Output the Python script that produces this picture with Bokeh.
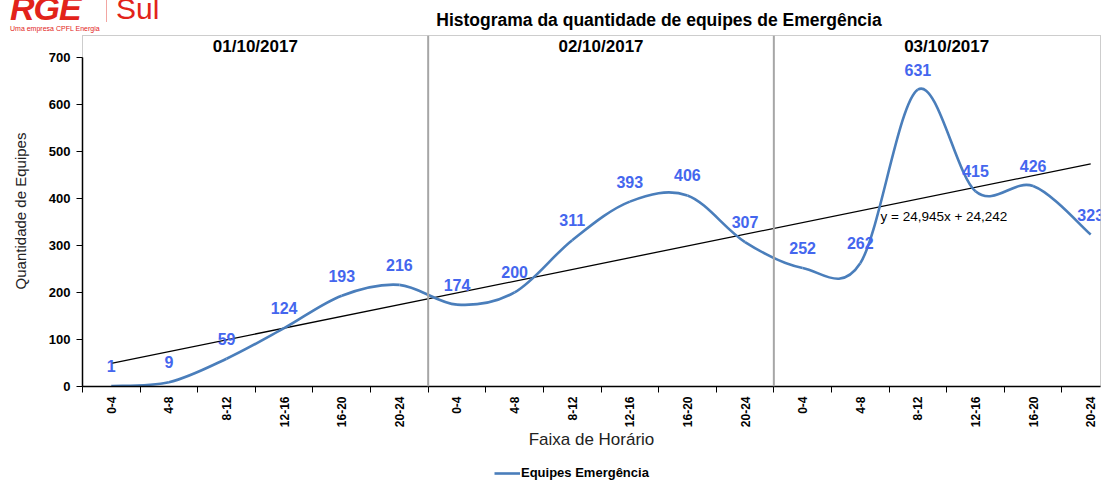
import math
import numpy as np
from bokeh.plotting import figure
from bokeh.layouts import column
from bokeh.models import (FixedTicker, Range1d, Label, Span, Legend, LegendItem,
                          ColumnDataSource, Div)
from bokeh.core.properties import value
from bokeh.embed import file_html
from bokeh.resources import INLINE

# ---------------- data ----------------
days = ["01/10/2017", "02/10/2017", "03/10/2017"]
slots = ["0-4", "4-8", "8-12", "12-16", "16-20", "20-24"]
equipes = [1, 9, 59, 124, 193, 216,
           174, 200, 311, 393, 406, 307,
           252, 262, 631, 415, 426, 323]
y_ticks = [0, 100, 200, 300, 400, 500, 600, 700]
series_name = "Equipes Emergência"
title_text = "Histograma da quantidade de equipes de Emergência"

FONT = "Liberation Sans"
LINE_COLOR = "#4a7ebb"
LABEL_COLOR = "#4466ee"
RED = "#e2231a"

n = len(equipes)
xs = np.arange(n, dtype=float)
ys = np.array(equipes, dtype=float)

# smoothed line (Catmull-Rom style bezier, like spreadsheet "smoothed line")
xp = np.concatenate([[xs[0]], xs, [xs[-1]]])
yp = np.concatenate([[ys[0]], ys, [ys[-1]]])
seg = ColumnDataSource(dict(
    x0=xs[:-1], y0=ys[:-1], x1=xs[1:], y1=ys[1:],
    cx0=xs[:-1] + (xp[2:-1] - xp[:-3]) / 6.0,
    cy0=ys[:-1] + (yp[2:-1] - yp[:-3]) / 6.0,
    cx1=xs[1:] - (xp[3:] - xp[1:-2]) / 6.0,
    cy1=ys[1:] - (yp[3:] - yp[1:-2]) / 6.0,
))

# linear trend (x = 1..n)
m, b = np.polyfit(xs + 1, ys, 1)

# ---------------- header (logo + title) ----------------
HEADER_H = 34
header = Div(width=1105, height=HEADER_H, margin=(0, 0, 0, 0), text=f"""
<div style="position:relative;width:1105px;height:{HEADER_H}px;overflow:hidden;background:white;font-family:'Liberation Sans';">
  <span style="position:absolute;left:10px;top:-16px;font-weight:bold;font-style:italic;font-size:34px;color:{RED};letter-spacing:-1px;white-space:nowrap;">RGE</span>
  <span style="position:absolute;left:106px;top:-4px;width:1px;height:26px;background:#f2a6a2;"></span>
  <span style="position:absolute;left:116px;top:-12px;font-size:30px;color:{RED};white-space:nowrap;">Sul</span>
  <span style="position:absolute;left:10px;top:24px;font-size:7px;color:{RED};white-space:nowrap;">Uma empresa CPFL Energia</span>
  <span style="position:absolute;left:659px;top:8px;transform:translateX(-50%);font-weight:bold;font-size:17.5px;color:black;white-space:nowrap;">{title_text}</span>
</div>""")

# ---------------- main figure ----------------
X_END = 17.17
Y_END = 746
MAIN_H = 418
LEG_H = 480 - HEADER_H - MAIN_H
p = figure(width=1105, height=MAIN_H,
           x_range=Range1d(-0.5, X_END), y_range=Range1d(0, Y_END),
           output_backend="svg", toolbar_location=None,
           min_border_left=82, min_border_right=5, min_border_top=1,
           min_border_bottom=62)
p.grid.visible = False
p.background_fill_color = "white"
p.border_fill_color = "white"
p.outline_line_color = "#9a9a9a"
p.outline_line_dash = "1 1"
p.outline_line_width = 1

# pixel helpers for decorations (frame: left 82px, top 35px, bottom 390px on page)
PX_PER_X = 1018 / (X_END + 0.5)
PX_PER_Y = 355 / Y_END
def dx(px):
    return -0.5 + (px - 82) / PX_PER_X
def dy(py):
    return (390 - py) / PX_PER_Y

# day separators
for k in range(1, len(days)):
    p.add_layout(Span(location=k * len(slots) - 0.5, dimension="height",
                      line_color="#a6a6a6", line_width=2))

# trend line
tx = np.array([xs[0], xs[-1]])
p.line(tx, m * (tx + 1) + b, line_color="black", line_width=1.3)

# smoothed series
bez_kw = dict(x0="x0", y0="y0", x1="x1", y1="y1", cx0="cx0", cy0="cy0",
              cx1="cx1", cy1="cy1", source=seg, line_color=LINE_COLOR,
              line_width=2.6)
r = p.bezier(**bez_kw)

# data labels
p.text(xs, ys, text=[str(v) for v in equipes], y_offset=-20,
       text_align="center", text_baseline="middle",
       text_font=value(FONT), text_font_style="bold",
       text_font_size="16px", text_color=LABEL_COLOR)

# day headers
p.text([(k + 0.5) * len(slots) - 0.5 for k in range(len(days))],
       [dy(46)] * len(days), text=days,
       text_align="center", text_baseline="middle",
       text_font=value(FONT), text_font_style="bold",
       text_font_size="17px", text_color="black")

# trend equation
eq = "y = {:.3f}x + {:.3f}".format(m, b).replace(".", ",")
p.add_layout(Label(x=dx(880), y=dy(218), text=eq, text_font=FONT,
                   text_font_size="13.5px", text_baseline="middle",
                   text_color="black"))

# axes
ya = p.yaxis[0]
ya.ticker = FixedTicker(ticks=y_ticks)
ya.bounds = (0, 700)
ya.axis_line_color = "black"
ya.axis_line_width = 1.5
ya.major_tick_out = 6
ya.major_tick_in = 0
ya.major_tick_line_color = "black"
ya.minor_tick_line_color = None
ya.major_label_text_font = FONT
ya.major_label_text_font_style = "bold"
ya.major_label_text_font_size = "13px"
ya.major_label_text_color = "black"
ya.major_label_standoff = 6
ya.axis_label = "Quantidade de Equipes"
ya.axis_label_text_font = FONT
ya.axis_label_text_font_style = "normal"
ya.axis_label_text_font_size = "15px"
ya.axis_label_text_color = "#222222"
ya.axis_label_standoff = 17

xa = p.xaxis[0]
xa.ticker = FixedTicker(ticks=list(range(n)),
                        minor_ticks=[i - 0.5 for i in range(n + 1)])
xa.major_label_overrides = {i: slots[i % len(slots)] for i in range(n)}
xa.major_label_orientation = math.pi / 2
xa.major_tick_line_color = None
xa.major_tick_out = 6
xa.minor_tick_line_color = "black"
xa.minor_tick_out = 6
xa.minor_tick_in = 0
xa.axis_line_color = "black"
xa.axis_line_width = 1.5
xa.major_label_text_font = FONT
xa.major_label_text_font_style = "bold"
xa.major_label_text_font_size = "12px"
xa.major_label_text_color = "black"
xa.major_label_standoff = 4
xa.axis_label = "Faixa de Horário"
xa.axis_label_text_font = FONT
xa.axis_label_text_font_style = "normal"
xa.axis_label_text_font_size = "17px"
xa.axis_label_text_color = "#222222"
xa.axis_label_standoff = 0

# ---------------- legend strip ----------------
# same series drawn in a strip whose view excludes the data, so only the
# legend entry for it is visible
p2 = figure(width=1105, height=LEG_H, output_backend="svg",
            toolbar_location=None, x_axis_type=None, y_axis_type=None,
            x_range=Range1d(-0.5, X_END), y_range=Range1d(-2000, -1990),
            min_border=0)
p2.grid.visible = False
p2.outline_line_color = None
p2.border_fill_color = "white"
p2.background_fill_color = "white"
r2 = p2.bezier(**bez_kw)
legend = Legend(items=[LegendItem(label=series_name, renderers=[r2])],
                orientation="horizontal", location=(412, 0),
                border_line_color=None, background_fill_alpha=0,
                label_text_font=FONT, label_text_font_size="13px",
                label_text_font_style="bold",
                label_text_color="black", glyph_width=26, glyph_height=10,
                padding=2, margin=0, label_standoff=1)
p2.add_layout(legend, "center")

layout = column(header, p, p2, spacing=0)
open("out.html", "w").write(file_html(layout, INLINE))
